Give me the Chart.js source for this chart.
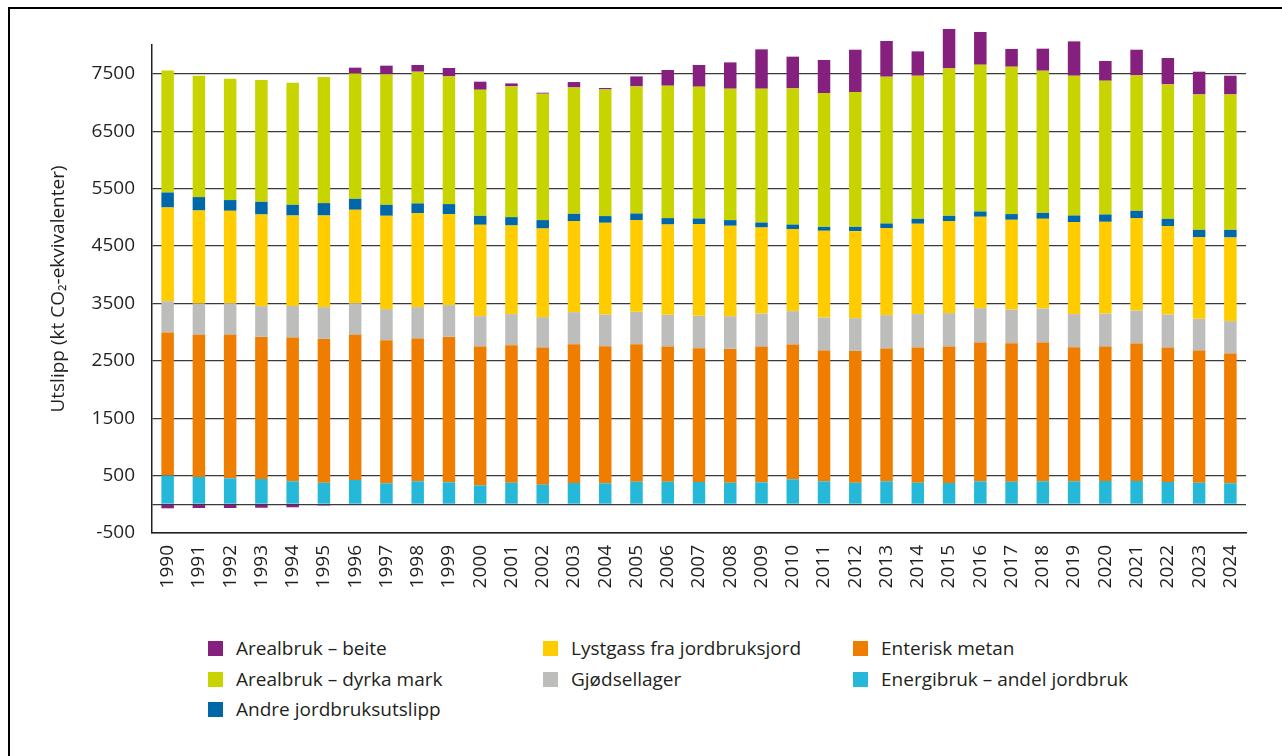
<!DOCTYPE html>
<html lang="no">
<head>
<meta charset="utf-8">
<title>Utslipp fra jordbruket</title>
<script src="https://cdn.jsdelivr.net/npm/chart.js@4.4.1/dist/chart.umd.min.js"></script>
<style>
  html, body { margin: 0; padding: 0; background: #fff; }
  body { width: 1282px; height: 756px; position: relative; overflow: hidden; font-family: "Open Sans", sans-serif; }
  #frame { position: absolute; left: 8px; top: 7px; width: 1400px; height: 900px; border-left: 2px solid #000; border-top: 2px solid #000; }
  #wrap { position: absolute; left: 0; top: 0; width: 1282px; height: 620px; }
  .lg { position: absolute; display: flex; align-items: center; font-size: 19px; color: #231f20; white-space: nowrap; }
  .lg span.box { width: 15px; height: 15px; display: inline-block; margin-right: 13px; }
</style>
</head>
<body>
<div id="frame"></div>
<div id="wrap"><canvas id="chart" width="1282" height="620"></canvas></div>
<div id="legend"></div>
<script>
const years = ["1990","1991","1992","1993","1994","1995","1996","1997","1998","1999",
  "2000","2001","2002","2003","2004","2005","2006","2007","2008","2009",
  "2010","2011","2012","2013","2014","2015","2016","2017","2018","2019",
  "2020","2021","2022","2023","2024"];

// series, bottom of stack first
const energibruk = [500, 476, 453, 441, 401, 376, 424, 366, 401, 383,
  331, 376, 342, 371, 366, 394, 394, 389, 376, 383,
  436, 401, 376, 401, 376, 371, 401, 394, 401, 401,
  406, 406, 389, 376, 366];
const enteriskMetan = [2491, 2475, 2498, 2475, 2503, 2505, 2527, 2493, 2485, 2533,
  2416, 2395, 2388, 2418, 2388, 2395, 2353, 2330, 2331, 2364,
  2346, 2276, 2296, 2311, 2354, 2376, 2416, 2412, 2416, 2336,
  2341, 2393, 2341, 2301, 2259];
const gjodsellager = [547, 545, 552, 535, 552, 553, 552, 540, 548, 553,
  530, 541, 529, 558, 551, 563, 553, 563, 570, 575,
  582, 575, 570, 582, 582, 582, 599, 586, 592, 575,
  575, 575, 575, 553, 565];
const lystgass = [1632, 1621, 1609, 1597, 1574, 1596, 1627, 1626, 1638, 1586,
  1591, 1544, 1545, 1586, 1598, 1598, 1573, 1598, 1574, 1499,
  1429, 1512, 1516, 1517, 1574, 1604, 1592, 1563, 1564, 1603,
  1598, 1611, 1541, 1424, 1457];
const andreUtslipp = [261, 234, 187, 221, 187, 216, 191, 192, 168, 174,
  157, 146, 146, 127, 117, 115, 112, 98, 99, 87,
  80, 69, 75, 80, 87, 92, 92, 100, 104, 115,
  128, 127, 127, 127, 134];
const dyrkaMark = [2127, 2114, 2114, 2121, 2126, 2197, 2184, 2271, 2295, 2224,
  2196, 2277, 2202, 2201, 2207, 2214, 2306, 2296, 2289, 2331,
  2371, 2331, 2348, 2557, 2492, 2568, 2557, 2567, 2475, 2435,
  2330, 2359, 2341, 2358, 2358];
const beite = [-70, -65, -65, -60, -52, -20, 100, 152, 117, 146,
  140, 52, 17, 94, 24, 174, 274, 378, 458, 685,
  553, 575, 737, 622, 424, 686, 570, 309, 384, 598,
  343, 447, 460, 396, 326];

const yTicks = [-500, 0, 500, 1500, 2500, 3500, 4500, 5500, 6500, 7500];

const series = [
  { label: "Energibruk – andel jordbruk", data: energibruk, color: "#26b8d8" },
  { label: "Enterisk metan", data: enteriskMetan, color: "#ef7d00" },
  { label: "Gjødsellager", data: gjodsellager, color: "#bdbdbc" },
  { label: "Lystgass fra jordbruksjord", data: lystgass, color: "#ffcc00" },
  { label: "Andre jordbruksutslipp", data: andreUtslipp, color: "#0068a8" },
  { label: "Arealbruk – dyrka mark", data: dyrkaMark, color: "#c8d400" },
  { label: "Arealbruk – beite", data: beite, color: "#86207f" }
];

const font = "'Open Sans', sans-serif";
const textColor = "#231f20";

let ctx = document.getElementById("chart").getContext("2d");

let chart = new Chart(ctx, {
  type: "bar",
  data: {
    labels: years,
    datasets: series.map(s => ({
      label: s.label,
      data: s.data,
      backgroundColor: s.color,
      borderWidth: 0,
      categoryPercentage: 1,
      barPercentage: 0.4,
      clip: false   // some bars go above 8000
    }))
  },
  options: {
    responsive: false,
    animation: false,
    layout: { padding: { left: 43, right: 36, top: 45, bottom: 0 } },
    plugins: { legend: { display: false }, tooltip: { enabled: false } },
    scales: {
      x: {
        stacked: true,
        grid: { display: false, drawTicks: false },
        border: { display: true, color: "#231f20", width: 1.5 },
        ticks: {
          color: textColor, font: { family: font, size: 19 },
          minRotation: 90, maxRotation: 90, autoSkip: false, padding: 12
        },
        afterFit: scale => { scale.height = 620 - 533; }
      },
      y: {
        stacked: true,
        min: -500,
        max: 8000,
        afterBuildTicks: axis => { axis.ticks = yTicks.map(v => ({ value: v })); },
        grid: { color: "#3a3a3a", lineWidth: 1.2, drawTicks: false },
        border: { display: true, color: "#231f20", width: 1.5 },
        ticks: {
          color: textColor, font: { family: font, size: 19 }, padding: 17,
          callback: v => (v === 0 ? "" : String(v))
        },
        title: {
          display: true, text: "Utslipp (kt CO₂-ekvivalenter)",
          color: textColor, font: { family: font, size: 19 }
        },
        afterFit: scale => { scale.width = 152 - 43; }
      }
    }
  }
});

// legend laid out in three columns like the original figure
const legendOrder = [6, 3, 1, 5, 2, 0, 4];
const colX = [208, 543, 853];
const rowY = [648, 679, 709];
const legendBox = document.getElementById("legend");
legendOrder.forEach((idx, i) => {
  const s = series[idx];
  const div = document.createElement("div");
  div.className = "lg";
  div.style.left = colX[i % 3] + "px";
  div.style.top = (rowY[Math.floor(i / 3)] - 13) + "px";
  div.style.height = "26px";
  div.innerHTML = `<span class="box" style="background:${s.color}"></span>${s.label}`;
  legendBox.appendChild(div);
});
</script>
</body>
</html>
